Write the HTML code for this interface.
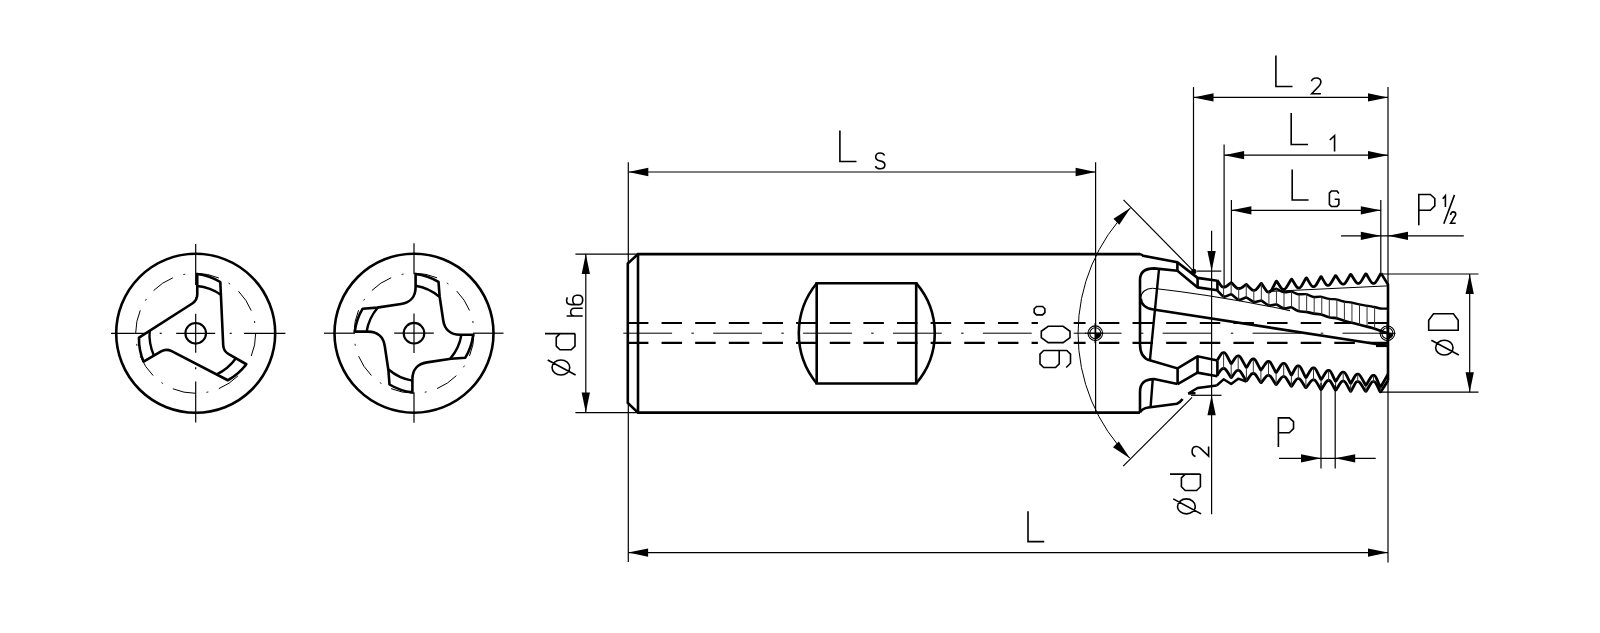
<!DOCTYPE html>
<html><head><meta charset="utf-8"><style>
html,body{margin:0;padding:0;background:#fff;}
body{width:1600px;height:633px;overflow:hidden;font-family:"Liberation Sans",sans-serif;}
svg{display:block;}
</style></head><body>
<svg width="1600" height="633" viewBox="0 0 1600 633">
<rect width="1600" height="633" fill="#fff"/>
<g fill="none" stroke="#000" stroke-linecap="butt">
<circle cx="195.7" cy="333.3" r="79.5" stroke-width="2.6"/>
<circle cx="195.7" cy="333.3" r="10.3" stroke-width="2.1"/>
<circle cx="195.7" cy="333.3" r="60" stroke-width="1" stroke-dasharray="23.3 10.96 1.9 10.96"/>
<line x1="111" y1="333.3" x2="147.4" y2="333.3" stroke-width="1.2"/>
<line x1="195.7" y1="244.1" x2="195.7" y2="285" stroke-width="1.2"/>
<line x1="159.7" y1="333.3" x2="161.7" y2="333.3" stroke-width="1.2"/>
<line x1="195.7" y1="297.3" x2="195.7" y2="299.3" stroke-width="1.2"/>
<line x1="176.2" y1="333.3" x2="215.2" y2="333.3" stroke-width="1.2"/>
<line x1="195.7" y1="313.8" x2="195.7" y2="352.8" stroke-width="1.2"/>
<line x1="229.7" y1="333.3" x2="231.7" y2="333.3" stroke-width="1.2"/>
<line x1="195.7" y1="367.3" x2="195.7" y2="369.3" stroke-width="1.2"/>
<line x1="244" y1="333.3" x2="285.4" y2="333.3" stroke-width="1.2"/>
<line x1="195.7" y1="381.6" x2="195.7" y2="422.5" stroke-width="1.2"/>
<path d="M197.2,286 A50,50 0 0,1 221.2,294.9" stroke-width="2.4"/>
<path d="M235.91,358.25 A50,50 0 0,1 216.21,374.58" stroke-width="2.4"/>
<path d="M153.99,355.65 A50,50 0 0,1 149.69,330.42" stroke-width="2.4"/>
<path d="M197.2,274 A59,59 0 0,1 220.3,282 L223.22,345.21 Q223.5,351.2 228.71,354.18 L246.31,364.25 A59,59 0 0,1 227.83,380.25 L171.63,351.18 Q166.3,348.43 161.11,351.45 L143.59,361.65 A59,59 0 0,1 138.97,337.65 L192.25,303.51 Q197.3,300.27 197.28,294.27 L197.2,274 Z" stroke-width="2.6" stroke-linejoin="round"/>
<circle cx="414" cy="333.2" r="79.5" stroke-width="2.6"/>
<circle cx="414" cy="333.2" r="10.3" stroke-width="2.1"/>
<circle cx="414" cy="333.2" r="60" stroke-width="1" stroke-dasharray="23.3 10.96 1.9 10.96"/>
<line x1="324" y1="333.2" x2="355" y2="333.2" stroke-width="1.2"/>
<line x1="414" y1="243.2" x2="414" y2="274.2" stroke-width="1.2"/>
<line x1="394.2" y1="333.2" x2="433.8" y2="333.2" stroke-width="1.2"/>
<line x1="414" y1="313.4" x2="414" y2="353" stroke-width="1.2"/>
<line x1="473" y1="333.2" x2="503.5" y2="333.2" stroke-width="1.2"/>
<line x1="414" y1="392.2" x2="414" y2="422.7" stroke-width="1.2"/>
<path d="M377.7,307.8 A48,48 0 0,0 366.6,331.6" stroke-width="2.4"/>
<path d="M439.4,296.9 A48,48 0 0,0 415.6,285.8" stroke-width="2.4"/>
<path d="M450.3,358.6 A48,48 0 0,0 461.4,334.8" stroke-width="2.4"/>
<path d="M388.6,369.5 A48,48 0 0,0 412.4,380.6" stroke-width="2.4"/>
<path d="M354.8,331.6 A58,58 0 0,1 362.7,308.7 L377,307.6 L401,304 C410.5,302.7 415.6,296.2 415.6,287.2 L415.6,274 A58,58 0 0,1 438.5,281.9 L439.6,296.2 L443.2,320.2 C444.5,329.7 451,334.8 460,334.8 L473.2,334.8 A58,58 0 0,1 465.3,357.7 L451,358.8 L427,362.4 C417.5,363.7 412.4,370.2 412.4,379.2 L412.4,392.4 A58,58 0 0,1 389.5,384.5 L388.4,370.2 L384.8,346.2 C383.5,336.7 377,331.6 368,331.6 L354.8,331.6 Z" stroke-width="2.6" stroke-linejoin="round"/>
<polyline points="1140,254.1 638,254.1 627.8,263.5 627.8,403 638,412.6 1140,412.6" stroke-width="2.6"/>
<line x1="638" y1="254.1" x2="638" y2="412.6" stroke-width="2.6"/>
<path d="M816.7,283.2 H916.2 V383.5 H816.7 Z" stroke-width="2.6"/>
<path d="M816.7,283.2 A79.2,79.2 0 0,0 816.7,383.5" stroke-width="2.6"/>
<path d="M916.2,283.2 A77,77 0 0,1 916.2,383.5" stroke-width="2.6"/>
<line x1="627.9" y1="323" x2="1387" y2="323" stroke-width="2.1" stroke-dasharray="20.5 13.14"/>
<line x1="627.9" y1="342.9" x2="1387" y2="342.9" stroke-width="2.1" stroke-dasharray="20.5 13.14"/>
<line x1="623.3" y1="333.2" x2="1400" y2="333.2" stroke-width="1" stroke-dasharray="48.8 19.3 2.5 19.3"/>
<rect x="1037.9" y="317" width="35.8" height="32" fill="#fff" stroke="none"/>
<rect x="1085.8" y="319" width="12.9" height="28" fill="#fff" stroke="none"/>
<line x1="1085" y1="333.2" x2="1099" y2="333.2" stroke-width="1.2"/>
<path d="M1140,254.2 Q1142,254.4 1143.2,255.8 L1177.3,262.1 L1197.6,277.9 L1217.4,280.7" stroke-width="2.6"/>
<line x1="1177.4" y1="262.1" x2="1177.4" y2="270.8" stroke-width="2.6"/>
<path d="M1177.4,270.8 L1197.6,287.4 L1217.4,290.3" stroke-width="2.6"/>
<line x1="1197.6" y1="277.9" x2="1197.6" y2="287.4" stroke-width="2.6"/>
<line x1="1217.4" y1="280.7" x2="1217.4" y2="290.3" stroke-width="2.6"/>
<path d="M1177.4,270.8 L1154.2,268.4 Q1140,268.5 1140,280 L1140,344.2 Q1140,358 1150.6,360.6 L1177.6,368.4 L1197.5,356.3 L1217.4,360.6" stroke-width="2.6"/>
<path d="M1177.6,384.1 L1197.5,372.7 L1217.4,376.2" stroke-width="2.6"/>
<line x1="1177.6" y1="368.4" x2="1177.6" y2="384.1" stroke-width="2.6"/>
<line x1="1197.5" y1="356.3" x2="1197.5" y2="372.7" stroke-width="2.6"/>
<line x1="1217.4" y1="360.6" x2="1217.4" y2="376.2" stroke-width="2.6"/>
<path d="M1177.6,384.1 L1154.1,379.1 Q1140,379 1140,392 L1140,412.3" stroke-width="2.6"/>
<path d="M1140,412.3 Q1142,408.5 1148.4,407.5 L1176.9,403.7 Q1180.5,402 1182.6,399" stroke-width="2.6"/>
<path d="M1216.7,385.5 L1197.7,388 L1188.3,393.5 L1195.5,393.3" stroke-width="2.4"/>
<line x1="1159" y1="269.2" x2="1149.9" y2="360.6" stroke-width="2.4"/>
<line x1="1152.7" y1="379.8" x2="1150.6" y2="406.8" stroke-width="2.4"/>
<path d="M1152.6,288.2 C1146,288.5 1140.8,292 1140.8,298.4" stroke-width="1.1"/>
<path d="M1140.8,298.4 C1140.8,304 1146,309 1153.4,309.5 L1387.4,345.8" stroke-width="2.6"/>
<line x1="1376" y1="345.8" x2="1388" y2="345.8" stroke-width="2.6"/>
<path d="M1152.6,288.2 Q1215,295 1290,310.6" stroke-width="1.1"/>
<path d="M1217.3,280.2 L1220.29,284.75 Q1221.9,287.2 1223.09,287.2 L1224.11,287.2 Q1225.3,287.2 1227.37,285.56 L1230.61,282.97 Q1231.2,282.5 1231.79,283.1 L1235.03,286.4 Q1237.1,288.5 1238.29,288.5 L1239.31,288.5 Q1240.5,288.5 1242.57,287.03 L1245.81,284.72 Q1246.4,284.3 1246.99,284.91 L1250.23,288.26 Q1252.3,290.4 1253.49,290.4 L1254.51,290.4 Q1255.7,290.4 1257.66,287.81 L1260.74,283.74 Q1261.3,283 1261.89,283.92 L1265.13,288.98 Q1267.2,292.2 1268.39,292.2 L1269.41,292.2 Q1270.6,292.2 1272.63,288.14 L1275.82,281.76 Q1276.4,280.6 1276.95,281.48 L1279.97,286.32 Q1281.9,289.4 1283.09,289.4 L1284.11,289.4 Q1285.3,289.4 1287.5,285.65 L1290.97,279.77 Q1291.6,278.7 1292.16,279.62 L1295.24,284.68 Q1297.2,287.9 1298.39,287.9 L1299.41,287.9 Q1300.6,287.9 1302.6,284.19 L1305.73,278.36 Q1306.3,277.3 1306.85,278.23 L1309.88,283.34 Q1311.8,286.6 1312.99,286.6 L1314.01,286.6 Q1315.2,286.6 1317.27,282.96 L1320.51,277.24 Q1321.1,276.2 1321.62,277.11 L1324.48,282.12 Q1326.3,285.3 1327.49,285.3 L1328.51,285.3 Q1329.7,285.3 1331.77,281.76 L1335.01,276.21 Q1335.6,275.2 1336.19,276.09 L1339.43,280.98 Q1341.5,284.1 1342.69,284.1 L1343.71,284.1 Q1344.9,284.1 1346.93,280.53 L1350.12,274.92 Q1350.7,273.9 1351.29,274.85 L1354.53,280.07 Q1356.6,283.4 1357.79,283.4 L1358.81,283.4 Q1360,283.4 1362.07,279.87 L1365.31,274.31 Q1365.9,273.3 1366.49,274.31 L1369.73,279.87 Q1371.8,283.4 1372.99,283.4 L1374.01,283.4 Q1375.2,283.4 1377.23,279.87 L1381,273.3" stroke-width="2.8" stroke-linejoin="round"/>
<polyline points="1381,273.3 1388,284.6 1388,380.5" stroke-width="2.6"/>
<path d="M1268.9,291.5 L1275.8,288.92 Q1276.4,288.7 1276.98,289 L1281.44,291.36 Q1283.6,292.5 1286,292.2 L1290.96,291.58 Q1291.6,291.5 1292.13,291.73 L1296.22,293.53 Q1298.2,294.4 1300.63,294.31 L1305.65,294.12 Q1306.3,294.1 1306.91,294.35 L1311.62,296.27 Q1313.9,297.2 1316,297.02 L1320.34,296.65 Q1320.9,296.6 1321.56,296.8 L1326.64,298.35 Q1329.1,299.1 1331.17,299.1 L1333.93,299.1 Q1336,299.1 1338.28,299.88 L1341.32,300.92 Q1343.6,301.7 1345.7,301.88 L1348.5,302.12 Q1350.6,302.3 1352.88,302.87 L1355.92,303.63 Q1358.2,304.2 1360.45,304.59 L1363.45,305.11 Q1365.7,305.5 1367.98,305.86 L1371.02,306.34 Q1373.3,306.7 1375.4,307.27 L1378.2,308.03 Q1380.3,308.6 1382.37,308.6 L1387.2,308.6" stroke-width="2.4" stroke-linejoin="round"/>
<path d="M1217.3,290.3 L1221.71,295.2 Q1223.6,297.3 1225.88,296.34 L1230.59,294.36 Q1231.2,294.1 1231.81,294.61 L1236.52,298.58 Q1238.8,300.5 1241.08,299.54 L1245.79,297.56 Q1246.4,297.3 1247.01,297.71 L1251.72,300.87 Q1254,302.4 1256.19,301.83 L1260.72,300.65 Q1261.3,300.5 1261.91,300.92 L1266.62,304.21 Q1268.9,305.8 1271.15,305.35 L1275.8,304.42 Q1276.4,304.3 1276.98,304.64 L1281.44,307.31 Q1283.6,308.6 1286,308.18 L1290.96,307.31 Q1291.6,307.2 1292.13,307.54 L1296.22,310.14 Q1298.2,311.4 1300.63,311.52 L1303.87,311.68 Q1306.3,311.8 1308.58,312.37 L1311.62,313.13 Q1313.9,313.7 1316,313.88 L1318.8,314.12 Q1320.9,314.3 1323.36,315.26 L1326.64,316.54 Q1329.1,317.5 1331.17,317.68 L1333.93,317.92 Q1336,318.1 1338.28,318.85 L1341.32,319.85 Q1343.6,320.6 1345.7,321.17 L1348.5,321.93 Q1350.6,322.5 1352.88,323.07 L1355.92,323.83 Q1358.2,324.4 1360.45,324.97 L1363.45,325.73 Q1365.7,326.3 1367.98,326.87 L1371.02,327.63 Q1373.3,328.2 1375.4,328.95 L1378.2,329.95 Q1380.3,330.7 1382.37,331.48 L1387.2,333.3" stroke-width="2.6" stroke-linejoin="round"/>
<line x1="1268.9" y1="291.5" x2="1387.2" y2="285.9" stroke-width="1"/>
<line x1="1223.6" y1="286.5" x2="1223.6" y2="297.3" stroke-width="1" stroke="#333"/>
<line x1="1231.15" y1="282.53" x2="1231.15" y2="294.12" stroke-width="1" stroke="#333"/>
<line x1="1238.7" y1="287.73" x2="1238.7" y2="300.42" stroke-width="1" stroke="#333"/>
<line x1="1246.25" y1="284.37" x2="1246.25" y2="297.36" stroke-width="1" stroke="#333"/>
<line x1="1253.8" y1="289.56" x2="1253.8" y2="302.27" stroke-width="1" stroke="#333"/>
<line x1="1261.35" y1="283.06" x2="1261.35" y2="300.53" stroke-width="1" stroke="#333"/>
<line x1="1268.9" y1="291.5" x2="1268.9" y2="305.8" stroke-width="1" stroke="#333"/>
<line x1="1276.45" y1="288.73" x2="1276.45" y2="304.33" stroke-width="1" stroke="#333"/>
<line x1="1284" y1="292.45" x2="1284" y2="308.53" stroke-width="1" stroke="#333"/>
<line x1="1291.55" y1="291.51" x2="1291.55" y2="307.21" stroke-width="1" stroke="#333"/>
<line x1="1299.1" y1="294.37" x2="1299.1" y2="311.44" stroke-width="1" stroke="#333"/>
<line x1="1306.65" y1="294.24" x2="1306.65" y2="311.89" stroke-width="1" stroke="#333"/>
<line x1="1314.2" y1="297.17" x2="1314.2" y2="313.73" stroke-width="1" stroke="#333"/>
<line x1="1321.75" y1="296.86" x2="1321.75" y2="314.63" stroke-width="1" stroke="#333"/>
<line x1="1329.3" y1="299.1" x2="1329.3" y2="317.52" stroke-width="1" stroke="#333"/>
<line x1="1336.85" y1="299.39" x2="1336.85" y2="318.38" stroke-width="1" stroke="#333"/>
<line x1="1344.4" y1="301.77" x2="1344.4" y2="320.82" stroke-width="1" stroke="#333"/>
<line x1="1351.95" y1="302.64" x2="1351.95" y2="322.84" stroke-width="1" stroke="#333"/>
<line x1="1359.5" y1="304.43" x2="1359.5" y2="324.73" stroke-width="1" stroke="#333"/>
<line x1="1367.05" y1="305.71" x2="1367.05" y2="326.64" stroke-width="1" stroke="#333"/>
<line x1="1374.6" y1="307.05" x2="1374.6" y2="328.66" stroke-width="1" stroke="#333"/>
<path d="M1217.3,360.3 L1220.29,355.36 Q1221.9,352.7 1223.09,352.7 L1224.11,352.7 Q1225.3,352.7 1227.37,356.69 L1230.61,362.96 Q1231.2,364.1 1231.73,363.27 L1234.64,358.71 Q1236.5,355.8 1237.69,355.8 L1238.71,355.8 Q1239.9,355.8 1242.18,360.04 L1245.75,366.69 Q1246.4,367.9 1246.92,367.01 L1249.78,362.12 Q1251.6,359 1252.79,359 L1253.81,359 Q1255,359 1257.07,363.02 L1260.31,369.35 Q1260.9,370.5 1261.49,369.6 L1264.73,364.65 Q1266.8,361.5 1267.99,361.5 L1269.01,361.5 Q1270.2,361.5 1272.27,365.52 L1275.51,371.85 Q1276.1,373 1276.69,372.04 L1279.93,366.76 Q1282,363.4 1283.19,363.4 L1284.21,363.4 Q1285.4,363.4 1287.5,367.64 L1290.8,374.29 Q1291.4,375.5 1291.92,374.54 L1294.78,369.26 Q1296.6,365.9 1297.79,365.9 L1298.81,365.9 Q1300,365.9 1302.07,370.14 L1305.31,376.79 Q1305.9,378 1306.49,376.98 L1309.73,371.37 Q1311.8,367.8 1312.99,367.8 L1314.01,367.8 Q1315.2,367.8 1317.27,372.04 L1320.51,378.69 Q1321.1,379.9 1321.68,378.95 L1324.87,373.73 Q1326.9,370.4 1328.09,370.4 L1329.11,370.4 Q1330.3,370.4 1332.15,374.39 L1335.07,380.66 Q1335.6,381.8 1336.19,380.84 L1339.43,375.56 Q1341.5,372.2 1342.69,372.2 L1343.71,372.2 Q1344.9,372.2 1346.93,376.22 L1350.12,382.55 Q1350.7,383.7 1351.23,382.74 L1354.14,377.46 Q1356,374.1 1357.19,374.1 L1358.21,374.1 Q1359.4,374.1 1361.68,378.12 L1365.25,384.45 Q1365.9,385.6 1366.49,384.58 L1369.73,378.97 Q1371.8,375.4 1372.99,375.4 L1374.01,375.4 Q1375.2,375.4 1377.02,379.64 L1379.88,386.29 Q1380.4,387.5 1381.16,386.17 L1388,374.2" stroke-width="2.8" stroke-linejoin="round"/>
<path d="M1217.3,374.9 L1220.29,370.74 Q1221.9,368.5 1223.09,368.5 L1224.11,368.5 Q1225.3,368.5 1227.37,371.82 L1230.61,377.05 Q1231.2,378 1231.73,377.24 L1234.64,373.06 Q1236.5,370.4 1237.69,370.4 L1238.71,370.4 Q1239.9,370.4 1242.18,374.18 L1245.75,380.12 Q1246.4,381.2 1246.92,380.43 L1249.78,376.19 Q1251.6,373.5 1252.79,373.5 L1253.81,373.5 Q1255,373.5 1257.07,376.86 L1260.31,382.14 Q1260.9,383.1 1261.49,382.33 L1264.73,378.1 Q1266.8,375.4 1267.99,375.4 L1269.01,375.4 Q1270.2,375.4 1272.27,378.76 L1275.51,384.04 Q1276.1,385 1276.69,384.17 L1279.93,379.61 Q1282,376.7 1283.19,376.7 L1284.21,376.7 Q1285.4,376.7 1287.5,380.24 L1290.8,385.79 Q1291.4,386.8 1291.92,385.98 L1294.78,381.47 Q1296.6,378.6 1297.79,378.6 L1298.81,378.6 Q1300,378.6 1302.07,381.93 L1305.31,387.15 Q1305.9,388.1 1306.49,387.27 L1309.73,382.71 Q1311.8,379.8 1312.99,379.8 L1314.01,379.8 Q1315.2,379.8 1317.27,383.37 L1320.51,388.98 Q1321.1,390 1321.68,389.05 L1324.87,383.82 Q1326.9,380.5 1328.09,380.5 L1329.11,380.5 Q1330.3,380.5 1332.15,384.04 L1335.07,389.59 Q1335.6,390.6 1336.19,389.65 L1339.43,384.43 Q1341.5,381.1 1342.69,381.1 L1343.71,381.1 Q1344.9,381.1 1346.93,384.88 L1350.12,390.82 Q1350.7,391.9 1351.23,390.88 L1354.14,385.27 Q1356,381.7 1357.19,381.7 L1358.21,381.7 Q1359.4,381.7 1361.68,385.27 L1365.25,390.88 Q1365.9,391.9 1366.49,390.88 L1369.73,385.27 Q1371.8,381.7 1372.99,381.7 L1374.01,381.7 Q1375.2,381.7 1377.02,385.48 L1379.88,391.42 Q1380.4,392.5 1381.16,391.3 L1388,380.5" stroke-width="2.8" stroke-linejoin="round"/>
<polyline points="1216.7,385.5 1223.6,379.3 1231.2,384 1238.2,378.7 1246.4,381.5" stroke-width="2.4" stroke-linejoin="round"/>
<line x1="1223.6" y1="353.4" x2="1223.6" y2="369.2" stroke-width="1" stroke="#333"/>
<line x1="1231.2" y1="364.1" x2="1231.2" y2="378" stroke-width="1" stroke="#333"/>
<line x1="1238.2" y1="356.5" x2="1238.2" y2="371.1" stroke-width="1" stroke="#333"/>
<line x1="1246.4" y1="367.9" x2="1246.4" y2="381.2" stroke-width="1" stroke="#333"/>
<line x1="1253.3" y1="359.7" x2="1253.3" y2="374.2" stroke-width="1" stroke="#333"/>
<line x1="1260.9" y1="370.5" x2="1260.9" y2="383.1" stroke-width="1" stroke="#333"/>
<line x1="1268.5" y1="362.2" x2="1268.5" y2="376.1" stroke-width="1" stroke="#333"/>
<line x1="1276.1" y1="373" x2="1276.1" y2="385" stroke-width="1" stroke="#333"/>
<line x1="1283.7" y1="364.1" x2="1283.7" y2="377.4" stroke-width="1" stroke="#333"/>
<line x1="1291.4" y1="375.5" x2="1291.4" y2="386.8" stroke-width="1" stroke="#333"/>
<line x1="1298.3" y1="366.6" x2="1298.3" y2="379.3" stroke-width="1" stroke="#333"/>
<line x1="1305.9" y1="378" x2="1305.9" y2="388.1" stroke-width="1" stroke="#333"/>
<line x1="1313.5" y1="368.5" x2="1313.5" y2="380.5" stroke-width="1" stroke="#333"/>
<line x1="1321.1" y1="379.9" x2="1321.1" y2="390" stroke-width="1" stroke="#333"/>
<line x1="1328.6" y1="371.1" x2="1328.6" y2="381.2" stroke-width="1" stroke="#333"/>
<line x1="1335.6" y1="381.8" x2="1335.6" y2="390.6" stroke-width="1" stroke="#333"/>
<line x1="1343.2" y1="372.9" x2="1343.2" y2="381.8" stroke-width="1" stroke="#333"/>
<line x1="1350.7" y1="383.7" x2="1350.7" y2="391.9" stroke-width="1" stroke="#333"/>
<line x1="1357.7" y1="374.8" x2="1357.7" y2="382.4" stroke-width="1" stroke="#333"/>
<line x1="1365.9" y1="385.6" x2="1365.9" y2="391.9" stroke-width="1" stroke="#333"/>
<line x1="1373.5" y1="376.1" x2="1373.5" y2="382.4" stroke-width="1" stroke="#333"/>
<line x1="1380.4" y1="387.5" x2="1380.4" y2="392.5" stroke-width="1" stroke="#333"/>
<circle cx="1095.3" cy="333.2" r="7.3" stroke-width="1.1"/>
<circle cx="1095.3" cy="333.2" r="5.5" stroke-width="1.1"/>
<path d="M1095.3,333.2 h5.5 a5.5,5.5 0 0,1 -5.5,5.5 Z" fill="#000" stroke="none"/>
<line x1="1087.3" y1="333.2" x2="1103.3" y2="333.2" stroke-width="1"/>
<line x1="1095.3" y1="323.2" x2="1095.3" y2="343.2" stroke-width="1.6"/>
<circle cx="1387.4" cy="333.3" r="7.3" stroke-width="1.1"/>
<circle cx="1387.4" cy="333.3" r="5.5" stroke-width="1.1"/>
<path d="M1387.4,333.3 h5.5 a5.5,5.5 0 0,1 -5.5,5.5 Z" fill="#000" stroke="none"/>
<line x1="1379.4" y1="333.3" x2="1395.4" y2="333.3" stroke-width="1"/>
<line x1="1387.4" y1="323.3" x2="1387.4" y2="343.3" stroke-width="1.6"/>
<line x1="575.4" y1="254.1" x2="637" y2="254.1" stroke-width="1.2"/>
<line x1="575.4" y1="412.6" x2="637" y2="412.6" stroke-width="1.2"/>
<line x1="585.8" y1="254.1" x2="585.8" y2="412.6" stroke-width="1.2"/>
<polygon points="585.8,254.1 589.95,274.1 581.65,274.1" fill="#000" stroke="none"/>
<polygon points="585.8,412.6 581.65,392.6 589.95,392.6" fill="#000" stroke="none"/>
<line x1="628.3" y1="162.2" x2="628.3" y2="562" stroke-width="1.2"/>
<line x1="1095.6" y1="162.2" x2="1095.6" y2="412" stroke-width="1.2"/>
<line x1="628.3" y1="172" x2="1095.6" y2="172" stroke-width="1.2"/>
<polygon points="628.3,172 648.3,167.85 648.3,176.15" fill="#000" stroke="none"/>
<polygon points="1095.6,172 1075.6,176.15 1075.6,167.85" fill="#000" stroke="none"/>
<line x1="628.1" y1="552.6" x2="1388" y2="552.6" stroke-width="1.2"/>
<polygon points="628.1,552.6 648.1,548.45 648.1,556.75" fill="#000" stroke="none"/>
<polygon points="1388,552.6 1368,556.75 1368,548.45" fill="#000" stroke="none"/>
<line x1="1388" y1="87.1" x2="1388" y2="562.5" stroke-width="1.2"/>
<line x1="1193.5" y1="87.1" x2="1193.5" y2="271.4" stroke-width="1.2"/>
<line x1="1193.5" y1="97.4" x2="1388" y2="97.4" stroke-width="1.2"/>
<polygon points="1193.5,97.4 1213.5,93.25 1213.5,101.55" fill="#000" stroke="none"/>
<polygon points="1388,97.4 1368,101.55 1368,93.25" fill="#000" stroke="none"/>
<line x1="1224.1" y1="144.5" x2="1224.1" y2="286" stroke-width="1.2"/>
<line x1="1224.1" y1="155.2" x2="1388" y2="155.2" stroke-width="1.2"/>
<polygon points="1224.1,155.2 1244.1,151.05 1244.1,159.35" fill="#000" stroke="none"/>
<polygon points="1388,155.2 1368,159.35 1368,151.05" fill="#000" stroke="none"/>
<line x1="1231.4" y1="200" x2="1231.4" y2="283" stroke-width="1.2"/>
<line x1="1380.8" y1="200" x2="1380.8" y2="273" stroke-width="1.2"/>
<line x1="1231.4" y1="210.3" x2="1380.8" y2="210.3" stroke-width="1.2"/>
<polygon points="1231.4,210.3 1251.4,206.15 1251.4,214.45" fill="#000" stroke="none"/>
<polygon points="1380.8,210.3 1360.8,214.45 1360.8,206.15" fill="#000" stroke="none"/>
<line x1="1341" y1="235.8" x2="1463.8" y2="235.8" stroke-width="1.2"/>
<polygon points="1380.8,235.8 1360.8,239.95 1360.8,231.65" fill="#000" stroke="none"/>
<polygon points="1388,235.8 1408,231.65 1408,239.95" fill="#000" stroke="none"/>
<line x1="1380" y1="274" x2="1478.5" y2="274" stroke-width="1.2"/>
<line x1="1380" y1="392.2" x2="1478.5" y2="392.2" stroke-width="1.2"/>
<line x1="1469.7" y1="274" x2="1469.7" y2="392.2" stroke-width="1.2"/>
<polygon points="1469.7,274 1473.85,294 1465.55,294" fill="#000" stroke="none"/>
<polygon points="1469.7,392.2 1465.55,372.2 1473.85,372.2" fill="#000" stroke="none"/>
<line x1="1211.6" y1="230.8" x2="1211.6" y2="514.2" stroke-width="1.2"/>
<line x1="1196.8" y1="271.1" x2="1221.3" y2="271.1" stroke-width="1.2"/>
<line x1="1191" y1="395.3" x2="1221.5" y2="395.3" stroke-width="1.2"/>
<polygon points="1211.6,271.1 1207.45,251.1 1215.75,251.1" fill="#000" stroke="none"/>
<polygon points="1211.6,395.3 1215.75,415.3 1207.45,415.3" fill="#000" stroke="none"/>
<line x1="1279" y1="458.3" x2="1375.7" y2="458.3" stroke-width="1.2"/>
<line x1="1321" y1="383" x2="1321" y2="468.4" stroke-width="1.2"/>
<line x1="1335.2" y1="385" x2="1335.2" y2="468.4" stroke-width="1.2"/>
<polygon points="1321,458.3 1301,462.45 1301,454.15" fill="#000" stroke="none"/>
<polygon points="1335.2,458.3 1355.2,454.15 1355.2,462.45" fill="#000" stroke="none"/>
<path d="M1130.6,207.7 A176.4,176.4 0 0,0 1130.1,458.4" stroke-width="1"/>
<polygon points="1130.6,207.7 1119.25,224.68 1113.43,218.76" fill="#000" stroke="none"/>
<polygon points="1130.1,458.4 1112.97,447.28 1118.8,441.38" fill="#000" stroke="none"/>
<line x1="1123.5" y1="199.8" x2="1193.8" y2="271.4" stroke-width="1.2"/>
<line x1="1123.2" y1="466.2" x2="1192.1" y2="397.4" stroke-width="1.2"/>
<circle cx="1193.8" cy="271.4" r="2.6" fill="#000" stroke="none"/>
<path transform="translate(839.9,130.5) scale(3.1)" d="M0,0 V10 H5.35" stroke-width="1.6" vector-effect="non-scaling-stroke" stroke-linejoin="miter"/>
<path transform="translate(875.4,153) scale(1.58)" d="M5.8,1.6 C5.3,0.5 4.4,0 3,0 C1.2,0 0.2,0.9 0.2,2.5 C0.2,4.2 1.5,4.7 3,5 C4.7,5.3 6,5.9 6,7.6 C6,9.2 4.8,10 3,10 C1.5,10 0.5,9.4 0,8.3" stroke-width="1.6" vector-effect="non-scaling-stroke" stroke-linejoin="miter"/>
<path transform="translate(1275.9,55.5) scale(3.1)" d="M0,0 V10 H5.35" stroke-width="1.6" vector-effect="non-scaling-stroke" stroke-linejoin="miter"/>
<path transform="translate(1311.4,78) scale(1.58)" d="M0,2.1 C0.4,0.7 1.4,0 3,0 C4.8,0 6,0.9 6,2.6 C6,3.6 5.6,4.2 5,4.9 L0.2,10 H6" stroke-width="1.6" vector-effect="non-scaling-stroke" stroke-linejoin="miter"/>
<path transform="translate(1291.2,113) scale(3.15)" d="M0,0 V10 H5.35" stroke-width="1.6" vector-effect="non-scaling-stroke" stroke-linejoin="miter"/>
<path transform="translate(1329.8,135.6) scale(1.59)" d="M0,2.75 L3,0 V10" stroke-width="1.6" vector-effect="non-scaling-stroke" stroke-linejoin="miter"/>
<path transform="translate(1292.2,169.4) scale(3.06)" d="M0,0 V10 H5.35" stroke-width="1.6" vector-effect="non-scaling-stroke" stroke-linejoin="miter"/>
<path transform="translate(1329.4,191) scale(1.55)" d="M6.1,1.6 L4.9,0 H1.3 L0,1.4 V8.6 L1.3,10 H4.9 L6.1,8.6 V5.3 H3.4" stroke-width="1.6" vector-effect="non-scaling-stroke" stroke-linejoin="miter"/>
<path transform="translate(1028,511.3) scale(3.03)" d="M0,0 V10 H5.35" stroke-width="1.6" vector-effect="non-scaling-stroke" stroke-linejoin="miter"/>
<path transform="translate(1418.8,194.5) scale(3.08)" d="M0,10 V0 H3.75 L5.2,1.3 V3.7 L3.75,5.1 H0" stroke-width="1.6" vector-effect="non-scaling-stroke" stroke-linejoin="miter"/>
<path transform="translate(1278.4,417.9) scale(2.91)" d="M0,10 V0 H3.75 L5.2,1.3 V3.7 L3.75,5.1 H0" stroke-width="1.6" vector-effect="non-scaling-stroke" stroke-linejoin="miter"/>
<path d="M1442.7,198.8 L1445.4,195.7 V207.1 M1454.5,194.9 L1443.8,223.7 M1450.6,215 C1450.9,212.9 1451.8,211.9 1453.2,211.9 C1454.8,211.9 1455.7,212.8 1455.7,214.2 C1455.7,215.2 1455.2,215.9 1454.6,216.7 L1450.6,223.3 H1455.7" stroke-width="1.6"/>
<path transform="translate(545,375) rotate(-90) scale(3)" d="M0,5.3 A2.5,2.95 0 1,0 5,5.3 A2.5,2.95 0 1,0 0,5.3 M5,0.9 L0,10.2" stroke-width="1.6" vector-effect="non-scaling-stroke"/>
<path transform="translate(545,349.8) rotate(-90) scale(3)" d="M5.4,0 V10 M5.4,5 L4.15,3.75 H1.25 L0,5 V8.75 L1.25,10 H5.4" stroke-width="1.6" vector-effect="non-scaling-stroke"/>
<path transform="translate(566.6,316) rotate(-90) scale(1.61)" d="M0,0 V10 M0,4.9 C0,3.3 1.2,2.5 2.4,2.5 C3.8,2.5 4.85,3.4 4.85,4.9 V10" stroke-width="1.6" vector-effect="non-scaling-stroke"/>
<path transform="translate(566.6,304.6) rotate(-90) scale(1.61)" d="M4.5,0.5 C3.6,0.1 3,0 2.4,0 C0.9,0 0,1.2 0,3 V7.4 C0,9 1.1,10 2.9,10 C4.7,10 5.84,9 5.84,7.4 V6.3 C5.84,4.7 4.7,3.8 2.9,3.8 C1.1,3.8 0,4.7 0,6.3" stroke-width="1.6" vector-effect="non-scaling-stroke"/>
<path transform="translate(1170.5,513.9) rotate(-90) scale(3)" d="M0,5.3 A2.5,2.95 0 1,0 5,5.3 A2.5,2.95 0 1,0 0,5.3 M5,0.9 L0,10.2" stroke-width="1.6" vector-effect="non-scaling-stroke"/>
<path transform="translate(1170,490.5) rotate(-90) scale(3.04)" d="M5.4,0 V10 M5.4,5 L4.15,3.75 H1.25 L0,5 V8.75 L1.25,10 H5.4" stroke-width="1.6" vector-effect="non-scaling-stroke"/>
<path transform="translate(1192.1,456.4) rotate(-90) scale(1.65)" d="M0,2.1 C0.4,0.7 1.4,0 3,0 C4.8,0 6,0.9 6,2.6 C6,3.6 5.6,4.2 5,4.9 L0.2,10 H6" stroke-width="1.6" vector-effect="non-scaling-stroke"/>
<path transform="translate(1428.7,355) rotate(-90) scale(2.95)" d="M0,5.3 A2.5,2.95 0 1,0 5,5.3 A2.5,2.95 0 1,0 0,5.3 M5,0.9 L0,10.2" stroke-width="1.6" vector-effect="non-scaling-stroke"/>
<path transform="translate(1428.7,330.2) rotate(-90) scale(2.95)" d="M0,0 H3.4 L5.6,1.63 V8.37 L3.4,10 H0 Z" stroke-width="1.6" vector-effect="non-scaling-stroke"/>
<path transform="translate(1040,367.5) rotate(-90) scale(3.05)" d="M0,8.6 L1.4,10 H4.4 L5.57,8.8 V1.2 L4.4,0 H1.2 L0,1.2 V5.1 L1.2,6.3 H5.57" stroke-width="1.6" vector-effect="non-scaling-stroke"/>
<path transform="translate(1041.3,342.6) rotate(-90) scale(2.87)" d="M1.75,0 H3.95 L5.7,2.4 V7.6 L3.95,10 H1.75 L0,7.6 V2.4 Z" stroke-width="1.6" vector-effect="non-scaling-stroke"/>
<path transform="translate(1034.2,314.9) rotate(-90) scale(1.07)" d="M2.2,0 H5.7 L7.9,2.2 V7.8 L5.7,10 H2.2 L0,7.8 V2.2 Z" stroke-width="1.6" vector-effect="non-scaling-stroke"/>
</g>
</svg>
</body></html>
